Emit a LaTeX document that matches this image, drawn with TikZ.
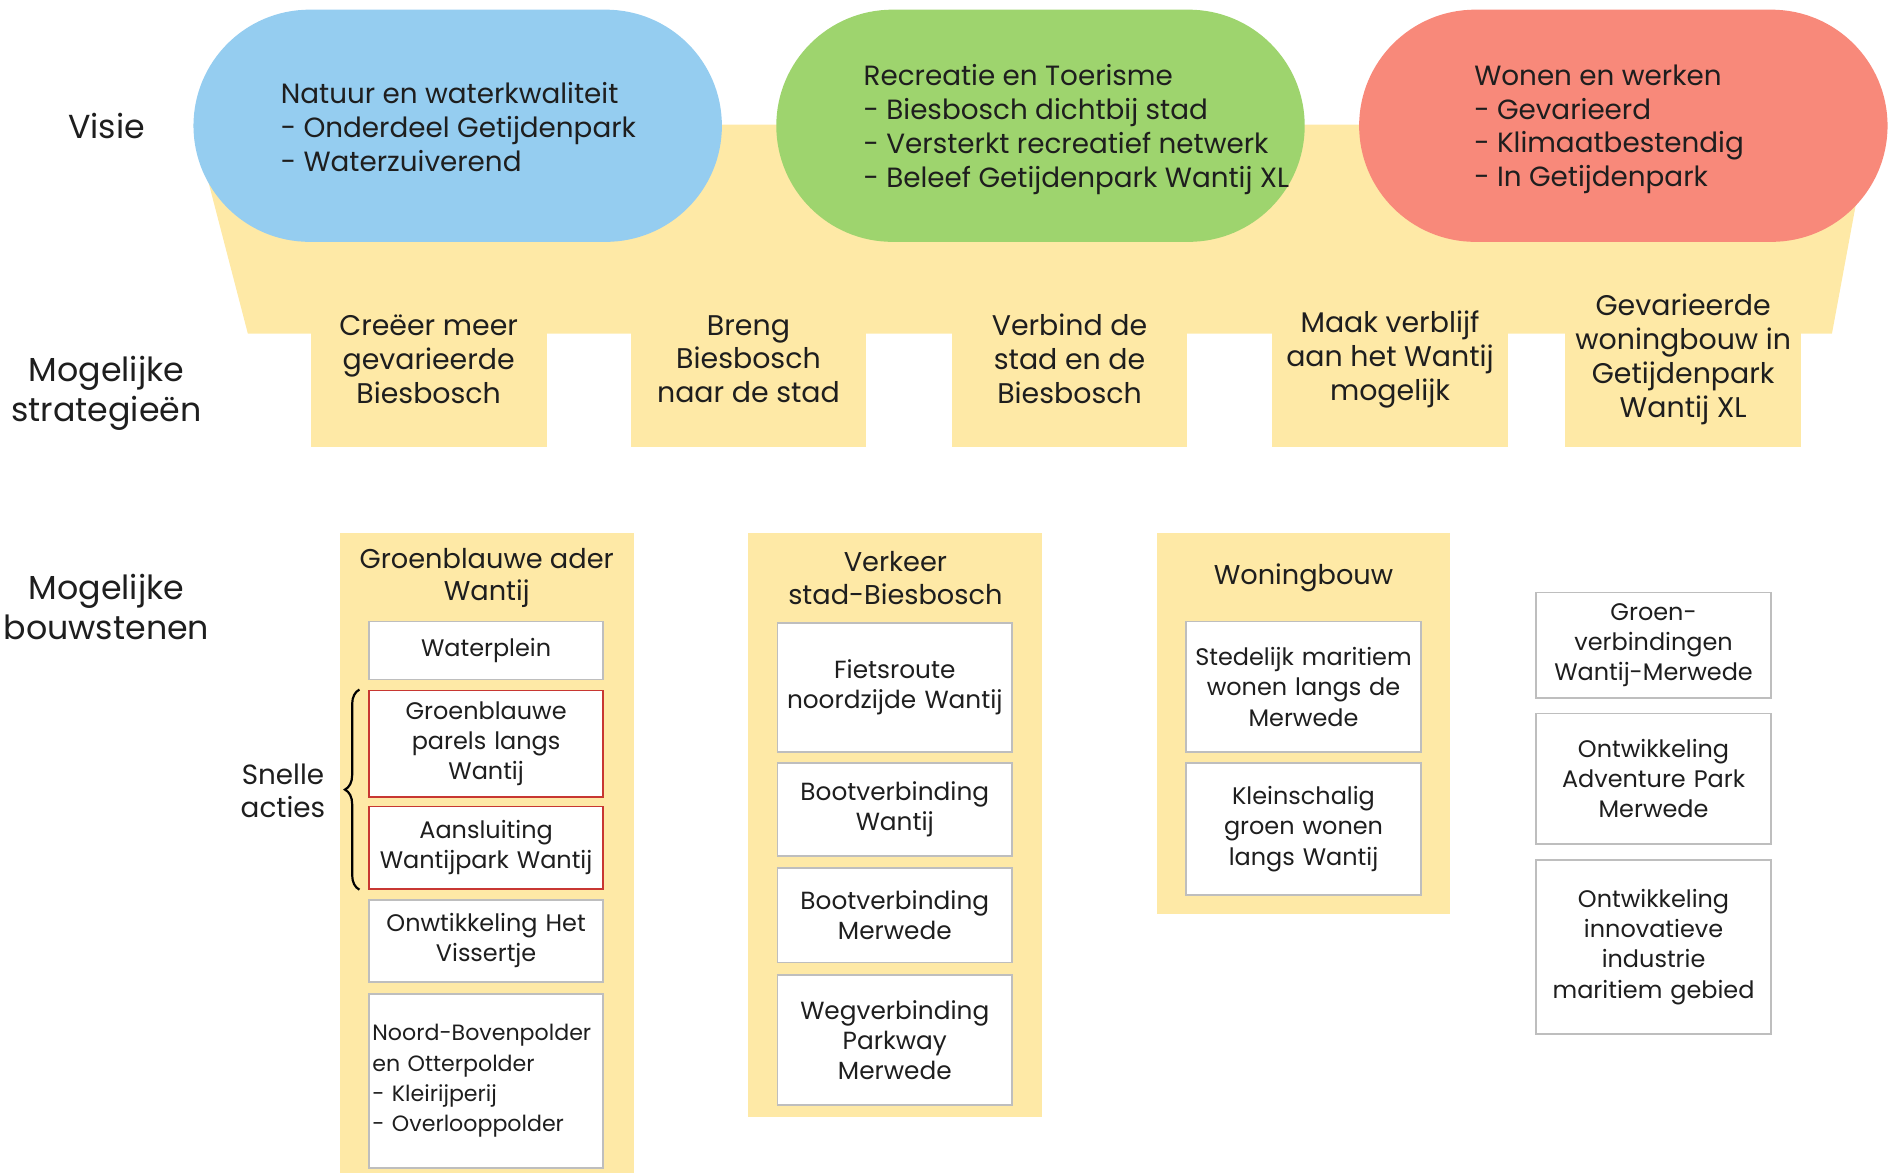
\documentclass[tikz,border=0pt]{standalone}
\usepackage{fontspec}
\setmainfont{Poppins}
\usetikzlibrary{shapes.misc, positioning, decorations.pathreplacing}
\definecolor{bandyellow}{RGB}{254,233,166}
\definecolor{visieblue}{RGB}{149,205,240}
\definecolor{visiegreen}{RGB}{158,212,110}
\definecolor{visiered}{RGB}{248,137,122}
\definecolor{boxgray}{RGB}{190,190,190}
\definecolor{snelred}{RGB}{200,55,50}
\definecolor{ink}{RGB}{30,30,30}

\begin{document}
\begin{tikzpicture}[x=1pt, y=-1pt, text=ink,
    visie/.style={rounded rectangle, minimum width=437pt, minimum height=192pt, inner sep=0pt},
    vtext/.style={anchor=west, align=left, inner sep=0pt, font=\fontsize{23}{28}\selectfont},
    strat/.style={fill=bandyellow, minimum width=195pt, minimum height=95pt, inner sep=0pt},
    stext/.style={align=center, inner sep=0pt, font=\fontsize{23.5}{28}\selectfont},
    rij/.style={align=center, inner sep=0pt, font=\fontsize{27.5}{33}\selectfont},
    panel/.style={fill=bandyellow, minimum width=243pt, inner sep=0pt},
    ptitle/.style={align=center, inner sep=0pt, font=\fontsize{22.5}{27}\selectfont},
    blok/.style={draw=boxgray, line width=1.5pt, fill=white, minimum width=194pt, text width=188pt, align=center, inner sep=0pt, font=\fontsize{19.8}{25}\selectfont},
    snel/.style={blok, draw=snelred}]
    \useasboundingbox (0,0) rectangle (1568,970);

    % band behind the vision
    \fill[bandyellow] (160,103) -- (1547,103) -- (1515,276) -- (205,276) -- cycle;
    \node[strat] (crea) at (354.5,322.5) {};
    \node[strat] (breng) at (619,322.5) {};
    \node[strat] (verb) at (884.5,322.5) {};
    \node[strat] (maak) at (1149.5,322.5) {};
    \node[strat] (gev) at (1392,322.5) {};
    \node[stext] () at (354.5,297) {Creëer meer\\gevarieerde\\Biesbosch};
    \node[stext] () at (619,297) {Breng\\Biesbosch\\naar de stad};
    \node[stext] () at (884.5,297) {Verbind de\\stad en de\\Biesbosch};
    \node[stext] () at (1149.5,297) {Maak verblijf\\aan het Wantij\\mogelijk};
    \node[stext] () at (1392,297) {Gevarieerde\\woningbouw in\\Getijdenpark\\Wantij XL};

    % visie
    \node[visie, fill=visieblue] (nat) at (378.5,104) {};
    \node[visie, fill=visiegreen] (rec) at (860.5,104) {};
    \node[visie, fill=visiered] (won) at (1342.5,104) {};
    \node[vtext] () at (232,105) {Natuur en waterkwaliteit\\- Onderdeel Getijdenpark\\- Waterzuiverend};
    \node[vtext] () at (714,107) {Recreatie en Toerisme\\- Biesbosch dichtbij stad\\- Versterkt recreatief netwerk\\- Beleef Getijdenpark Wantij XL};
    \node[vtext] () at (1219,107) {Wonen en werken\\- Gevarieerd\\- Klimaatbestendig\\- In Getijdenpark};

    % rij labels
    \node[rij] (visie) at (88,104) {Visie};
    \node[rij] (strategie) at (88,325) {Mogelijke\\strategieën};
    \node[rij] (bouw) at (88,502) {Mogelijke\\bouwstenen};

    % bouwstenen
    \node[panel, minimum height=529pt] (gba) at (402.5,705.5) {};
    \node[panel, minimum height=483pt] (verk) at (740.5,682.5) {};
    \node[panel, minimum height=315pt] (wbouw) at (1078,598.5) {};
    \node[ptitle] () at (402.5,478) {Groenblauwe ader\\Wantij};
    \node[ptitle] () at (740.5,478) {Verkeer\\stad-Biesbosch};
    \node[ptitle] () at (1078,478) {Woningbouw};

    \node[blok, minimum height=48pt] (wplein) at (402,538) {Waterplein};
    \node[snel, minimum height=88pt] (parels) at (402,615) {Groenblauwe\\parels langs\\Wantij};
    \node[snel, minimum height=68pt] (aans) at (402,701) {Aansluiting\\Wantijpark Wantij};
    \node[blok, minimum height=68pt] (viss) at (402,778) {Onwtikkeling Het\\Vissertje};
    \node[blok, minimum height=144pt, align=left, font=\fontsize{18.3}{25}\selectfont] (noord) at (402,894) {Noord-Bovenpolder\\en Otterpolder\\- Kleirijperij\\- Overlooppolder};

    \node[blok, minimum height=107pt, font=\fontsize{20.5}{25}\selectfont] (fiets) at (740,568.5) {Fietsroute\\noordzijde Wantij};
    \node[blok, minimum height=77pt, font=\fontsize{20.5}{25}\selectfont] (bootw) at (740,669.5) {Bootverbinding\\Wantij};
    \node[blok, minimum height=78pt, font=\fontsize{20.5}{25}\selectfont] (bootm) at (740,757) {Bootverbinding\\Merwede};
    \node[blok, minimum height=108pt, font=\fontsize{20.5}{25}\selectfont] (weg) at (740,860) {Wegverbinding\\Parkway\\Merwede};

    \node[blok, minimum height=108pt] (sted) at (1078,568) {Stedelijk maritiem\\wonen langs de\\Merwede};
    \node[blok, minimum height=109pt] (klein) at (1078,685.5) {Kleinschalig\\groen wonen\\langs Wantij};

    \node[blok, minimum height=87pt] (groen) at (1367.5,533.5) {Groen-\\verbindingen\\Wantij-Merwede};
    \node[blok, minimum height=108pt] (adv) at (1367.5,644) {Ontwikkeling\\Adventure Park\\Merwede};
    \node[blok, minimum height=144pt] (innov) at (1367.5,783) {Ontwikkeling\\innovatieve\\industrie\\maritiem gebied};

    % snelle acties
    \coordinate (bo) at ([xshift=-7pt]aans.south west);
    \coordinate (bb) at ([xshift=-7pt]parels.north west);
    \draw[line width=1.8pt, decorate, decoration={brace, amplitude=12pt}] (bo) -- (bb);
    \node[rij, font=\fontsize{23}{28}\selectfont] (snelle) at (234,654) {Snelle\\acties};
\end{tikzpicture}
\end{document}
